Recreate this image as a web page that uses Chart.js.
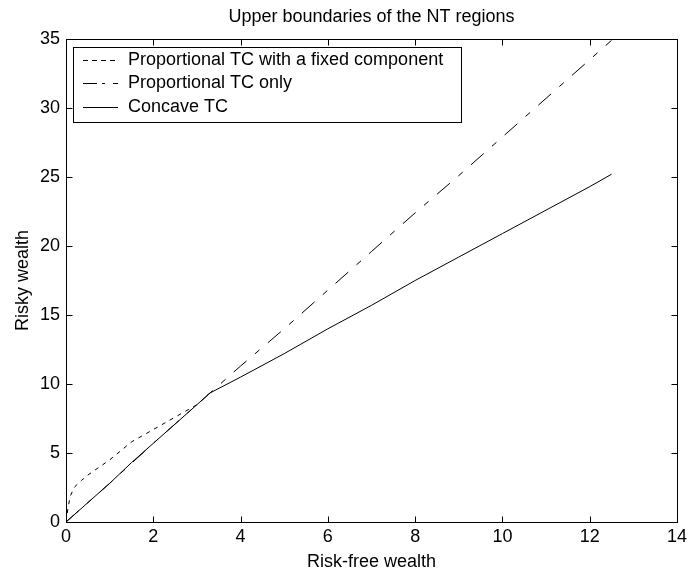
<!DOCTYPE html>
<html>
<head>
<meta charset="utf-8">
<title>Upper boundaries of the NT regions</title>
<script src="https://cdn.jsdelivr.net/npm/chart.js@4/dist/chart.umd.min.js"></script>
<style>
    html, body { margin: 0; padding: 0; background: #fff; }
    canvas { display: block; }
</style>
</head>
<body>
<canvas id="ntChart" width="691" height="577"></canvas>
<script>
// Boundary curves, read as (risk-free wealth, risky wealth) pairs
const fixedX = [0, 0.05, 0.1, 0.2, 0.35, 0.5, 0.75, 1, 1.5, 2, 2.5, 3, 3.3];
const fixedY = [0, 1.1, 1.9, 2.55, 3.0, 3.4, 3.95, 4.5, 5.8, 6.7, 7.6, 8.5, 9.35];

const propX = [0, 1, 2, 3, 3.3, 4, 5, 6, 7, 8, 9, 10, 11, 12, 12.5];
const propY = [0, 2.8, 5.7, 8.5, 9.35, 11.3, 14.0, 16.8, 19.6, 22.4, 25.1, 27.9, 30.7, 33.5, 34.9];

const concaveX = [0, 0.5, 1, 1.5, 2, 2.5, 3, 3.3, 4, 5, 6, 7, 8, 9, 10, 11, 12, 12.5];
const concaveY = [0, 1.4, 2.8, 4.3, 5.7, 7.1, 8.5, 9.35, 10.5, 12.2, 14.0, 15.7, 17.5, 19.2, 20.9, 22.6, 24.3, 25.2];

const seriesNames = ['Proportional TC with a fixed component', 'Proportional TC only', 'Concave TC'];

const FONT = "'Liberation Sans', Arial, sans-serif";
Chart.defaults.font.family = FONT;
Chart.defaults.font.size = 18;
Chart.defaults.color = '#000';

function toPoints(xs, ys) {
    return xs.map((x, i) => ({ x: x, y: ys[i] }));
}

// legendDash: the short sample in the legend box gets its own pattern
function lineSet(label, xs, ys, dash, legendDash) {
    return {
        label: label,
        data: toPoints(xs, ys),
        borderColor: '#000',
        borderWidth: 1,
        borderDash: dash,
        legendDash: legendDash,
        pointRadius: 0,
        fill: false,
        tension: 0
    };
}

// Box, inward ticks on all four sides, title and the boxed legend
const matlabFrame = {
    id: 'matlabFrame',
    afterDatasetsDraw(chart) {
        const ctx = chart.ctx;
        const area = chart.chartArea;
        const xs = chart.scales.x;
        const ys = chart.scales.y;
        const L = Math.round(area.left) + 0.5;
        const R = Math.round(area.right) + 0.5;
        const T = Math.round(area.top) + 0.5;
        const B = Math.round(area.bottom) + 0.5;
        const tick = 6;

        ctx.save();
        ctx.strokeStyle = '#000';
        ctx.lineWidth = 1;
        ctx.setLineDash([]);
        ctx.strokeRect(L, T, R - L, B - T);

        ctx.beginPath();
        xs.ticks.forEach(t => {
            const px = Math.round(xs.getPixelForValue(t.value)) + 0.5;
            ctx.moveTo(px, B); ctx.lineTo(px, B - tick);
            ctx.moveTo(px, T); ctx.lineTo(px, T + tick);
        });
        ys.ticks.forEach(t => {
            const py = Math.round(ys.getPixelForValue(t.value)) + 0.5;
            ctx.moveTo(L, py); ctx.lineTo(L + tick, py);
            ctx.moveTo(R, py); ctx.lineTo(R - tick, py);
        });
        ctx.stroke();

        // title over the axes
        ctx.fillStyle = '#000';
        ctx.font = '18px ' + FONT;
        ctx.textAlign = 'center';
        ctx.textBaseline = 'middle';
        ctx.fillText('Upper boundaries of the NT regions', (area.left + area.right) / 2, 17);

        // legend in the upper left corner
        const box = { x: 73.5, y: 47.5, w: 388, h: 75 };
        ctx.fillStyle = '#fff';
        ctx.fillRect(box.x, box.y, box.w, box.h);
        ctx.strokeRect(box.x, box.y, box.w, box.h);
        ctx.textAlign = 'left';
        chart.data.datasets.forEach((ds, i) => {
            const cy = Math.round(60 + i * 23.3) + 0.5;
            ctx.setLineDash(ds.legendDash || []);
            ctx.beginPath();
            ctx.moveTo(83, cy);
            ctx.lineTo(118, cy);
            ctx.stroke();
            ctx.setLineDash([]);
            ctx.fillStyle = '#000';
            ctx.fillText(ds.label, 128, cy);
        });
        ctx.restore();
    }
};

new Chart(document.getElementById('ntChart'), {
    type: 'line',
    data: {
        datasets: [
            lineSet(seriesNames[0], fixedX, fixedY, [4, 5], [5, 4]),
            lineSet(seriesNames[1], propX, propY, [17, 11, 6, 11], [14, 5, 3, 8]),
            lineSet(seriesNames[2], concaveX, concaveY, [], [])
        ]
    },
    options: {
        responsive: false,
        animation: false,
        devicePixelRatio: 1,
        layout: { padding: { top: 39, right: 14, bottom: 0, left: 0 } },
        plugins: {
            legend: { display: false },
            title: { display: false },
            tooltip: { enabled: false }
        },
        scales: {
            x: {
                type: 'linear',
                min: 0,
                max: 14,
                grid: { display: false, drawTicks: false, tickLength: 0 },
                border: { display: false },
                ticks: { stepSize: 2, padding: 4, color: '#000', maxRotation: 0 },
                title: { display: true, text: 'Risk-free wealth', color: '#000', padding: { top: 0, bottom: 4 } },
                afterFit(scale) { scale.height = 55; }
            },
            y: {
                type: 'linear',
                min: 0,
                max: 35,
                grid: { display: false, drawTicks: false, tickLength: 0 },
                border: { display: false },
                ticks: { stepSize: 5, padding: 6, color: '#000' },
                title: { display: true, text: 'Risky wealth', color: '#000', padding: { top: 12, bottom: 0 } },
                afterFit(scale) { scale.width = 66; }
            }
        }
    },
    plugins: [matlabFrame]
});
</script>
</body>
</html>
